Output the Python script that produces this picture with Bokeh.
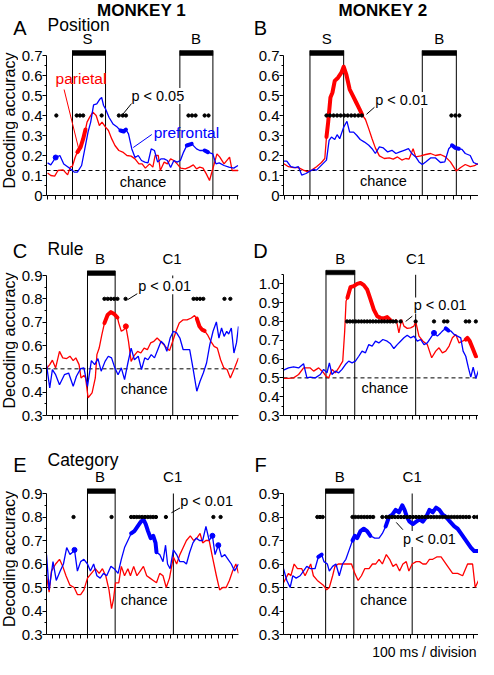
import numpy as np
from bokeh.plotting import figure
from bokeh.layouts import column, row
from bokeh.models import FixedTicker, Label, Span, Range1d
from bokeh.embed import file_html
from bokeh.resources import INLINE

RED = "#ff0000"
BLUE = "#0000ff"
FONT = "Liberation Sans"

# ---------------- DATA (time in ms, decoding accuracy) ----------------
# Panel A : Monkey 1, Position (S = sample, B = bar)
A_T_PFC = [-302, -263, -204, -153, -106, -47, 0, 20, 59, 110, 149, 188, 220, 255, 294, 333, 353, 376, 400, 443, 490, 541, 580, 620, 647, 678, 718, 757, 796, 835, 875, 914, 953, 992, 1031, 1071, 1110, 1149, 1188, 1227, 1267, 1306, 1345, 1384, 1443, 1502, 1541, 1600, 1639, 1698, 1737, 1776, 1835, 1894, 1953, 2004]
A_PFC = [0.163, 0.153, 0.19, 0.2, 0.158, 0.14, 0.125, 0.117, 0.117, 0.15, 0.233, 0.317, 0.367, 0.453, 0.458, 0.483, 0.49, 0.45, 0.433, 0.39, 0.358, 0.342, 0.325, 0.32, 0.33, 0.308, 0.233, 0.19, 0.2, 0.175, 0.167, 0.163, 0.233, 0.225, 0.167, 0.183, 0.183, 0.175, 0.14, 0.175, 0.167, 0.175, 0.217, 0.25, 0.258, 0.233, 0.225, 0.225, 0.217, 0.208, 0.158, 0.163, 0.15, 0.142, 0.137, 0.15]
A_T_PPC = [-302, -263, -216, -176, -114, -59, -27, 0, 31, 59, 98, 129, 157, 176, 208, 247, 286, 325, 357, 400, 435, 475, 514, 561, 608, 659, 710, 757, 804, 843, 882, 933, 973, 1000, 1039, 1063, 1110, 1149, 1188, 1227, 1267, 1310, 1365, 1416, 1463, 1502, 1541, 1580, 1620, 1659, 1710, 1749, 1784, 1835, 1902, 1933, 2004]
A_PPC = [0.112, 0.1, 0.097, 0.125, 0.128, 0.103, 0.142, 0.147, 0.19, 0.217, 0.242, 0.283, 0.33, 0.367, 0.392, 0.417, 0.4, 0.35, 0.367, 0.342, 0.325, 0.283, 0.25, 0.225, 0.217, 0.2, 0.197, 0.183, 0.158, 0.158, 0.137, 0.158, 0.142, 0.2, 0.2, 0.125, 0.167, 0.158, 0.183, 0.175, 0.158, 0.137, 0.133, 0.142, 0.153, 0.133, 0.142, 0.137, 0.108, 0.075, 0.15, 0.208, 0.192, 0.158, 0.192, 0.125, 0.125]
A_SIG_PFC = [(-210, -200), (575, 650), (1380, 1450), (1595, 1645)]
A_SIG_PPC = [(55, 160)]
A_DOTS = [-196, 51, 90, 129, 353, 561, 608, 647, 1404, 1447, 1490, 1600, 1647]

# Panel B : Monkey 2, Position
B_T_PFC = [-314, -275, -227, -176, -137, -98, -47, 0, 39, 78, 137, 196, 227, 255, 294, 322, 353, 400, 439, 471, 518, 557, 596, 647, 698, 737, 776, 824, 871, 922, 973, 1020, 1067, 1118, 1169, 1208, 1255, 1294, 1333, 1373, 1431, 1490, 1549, 1600, 1647, 1686, 1725, 1765, 1804, 1843, 1902, 1941, 1992]
B_PFC = [0.172, 0.172, 0.144, 0.139, 0.144, 0.102, 0.11, 0.122, 0.13, 0.127, 0.152, 0.177, 0.276, 0.292, 0.28, 0.304, 0.284, 0.342, 0.371, 0.317, 0.317, 0.3, 0.28, 0.267, 0.251, 0.234, 0.21, 0.243, 0.238, 0.218, 0.226, 0.21, 0.218, 0.226, 0.234, 0.21, 0.193, 0.168, 0.155, 0.168, 0.188, 0.188, 0.165, 0.168, 0.234, 0.251, 0.238, 0.234, 0.231, 0.21, 0.2, 0.165, 0.155]
B_T_PPC = [-314, -255, -196, -137, -78, -31, 20, 78, 137, 176, 196, 216, 243, 267, 294, 333, 373, 400, 431, 471, 510, 549, 588, 620, 659, 698, 737, 776, 824, 882, 941, 988, 1039, 1090, 1137, 1176, 1224, 1255, 1314, 1373, 1431, 1490, 1549, 1608, 1667, 1737, 1784, 1843, 1902, 1953, 1992]
B_PPC = [0.16, 0.144, 0.139, 0.139, 0.127, 0.119, 0.127, 0.144, 0.165, 0.185, 0.292, 0.366, 0.49, 0.515, 0.573, 0.589, 0.614, 0.644, 0.606, 0.531, 0.498, 0.465, 0.432, 0.403, 0.38, 0.333, 0.284, 0.238, 0.198, 0.185, 0.188, 0.182, 0.193, 0.177, 0.185, 0.182, 0.234, 0.193, 0.198, 0.205, 0.21, 0.2, 0.205, 0.193, 0.168, 0.122, 0.139, 0.155, 0.144, 0.149, 0.16]
B_SIG_PFC = [(1680, 1770)]
B_SIG_PPC = [(190, 625)]
B_DOTS = [196, 238, 280, 322, 364, 406, 448, 490, 532, 574, 616, 1678, 1725, 1772]

# Panel C : Monkey 1, Rule (B = bar onset, C1 = first choice)
C_T_PFC = [-593, -546, -508, -461, -405, -334, -273, -207, -160, -99, -52, 0, 56, 104, 151, 198, 254, 301, 348, 395, 442, 489, 536, 584, 631, 678, 734, 781, 828, 875, 922, 969, 1016, 1064, 1111, 1148, 1195, 1242, 1289, 1336, 1384, 1431, 1478, 1525, 1581, 1628, 1675, 1722, 1769, 1816, 1864, 1901, 1939, 1976, 2014, 2042, 2080, 2118, 2155, 2184]
C_PFC = [0.518, 0.418, 0.497, 0.475, 0.432, 0.475, 0.482, 0.425, 0.468, 0.501, 0.504, 0.425, 0.535, 0.518, 0.544, 0.49, 0.532, 0.554, 0.547, 0.504, 0.475, 0.504, 0.454, 0.525, 0.589, 0.539, 0.554, 0.497, 0.547, 0.539, 0.561, 0.547, 0.582, 0.618, 0.604, 0.575, 0.632, 0.661, 0.654, 0.632, 0.582, 0.582, 0.582, 0.504, 0.404, 0.447, 0.482, 0.525, 0.604, 0.661, 0.701, 0.632, 0.675, 0.639, 0.661, 0.649, 0.675, 0.568, 0.611, 0.682]
C_T_PPC = [-593, -546, -508, -461, -405, -358, -301, -254, -207, -169, -122, -94, -52, -28, 9, 66, 113, 136, 169, 207, 245, 292, 339, 386, 433, 452, 489, 527, 555, 593, 631, 678, 725, 772, 819, 866, 913, 960, 1007, 1054, 1101, 1148, 1186, 1233, 1280, 1327, 1384, 1440, 1501, 1548, 1581, 1619, 1656, 1694, 1736, 1784, 1831, 1878, 1925, 1972, 2019, 2066, 2127, 2184]
C_PPC = [0.501, 0.518, 0.537, 0.504, 0.575, 0.547, 0.544, 0.554, 0.535, 0.547, 0.518, 0.461, 0.472, 0.461, 0.376, 0.397, 0.461, 0.561, 0.589, 0.646, 0.696, 0.732, 0.743, 0.735, 0.72, 0.696, 0.661, 0.668, 0.682, 0.618, 0.532, 0.558, 0.575, 0.568, 0.589, 0.582, 0.611, 0.618, 0.632, 0.618, 0.604, 0.589, 0.578, 0.618, 0.661, 0.696, 0.71, 0.71, 0.718, 0.728, 0.715, 0.682, 0.668, 0.663, 0.646, 0.618, 0.596, 0.589, 0.539, 0.504, 0.497, 0.461, 0.504, 0.547]
C_SIG_PFC = []
C_SIG_PPC = [(240, 440), (550, 560), (1575, 1700)]
C_DOTS = [245, 292, 339, 386, 433, 551, 1534, 1581, 1628, 1675, 1981, 2066]

# Panel D : Monkey 2, Rule
D_T_PFC = [-591, -521, -451, -381, -312, -265, -219, -149, -79, -33, 14, 47, 84, 130, 177, 223, 270, 316, 363, 409, 456, 502, 549, 595, 642, 688, 735, 791, 851, 898, 944, 991, 1037, 1084, 1130, 1177, 1223, 1270, 1316, 1363, 1409, 1456, 1502, 1549, 1595, 1628, 1665, 1702, 1740, 1781, 1828, 1874, 1907, 1944, 1981, 2014, 2047, 2084, 2121]
D_PFC = [0.541, 0.553, 0.559, 0.553, 0.575, 0.5, 0.504, 0.5, 0.518, 0.545, 0.527, 0.58, 0.518, 0.536, 0.527, 0.545, 0.571, 0.589, 0.58, 0.589, 0.615, 0.642, 0.633, 0.677, 0.669, 0.695, 0.686, 0.704, 0.695, 0.681, 0.656, 0.677, 0.695, 0.713, 0.727, 0.713, 0.722, 0.695, 0.704, 0.677, 0.686, 0.713, 0.739, 0.722, 0.739, 0.752, 0.763, 0.752, 0.748, 0.731, 0.722, 0.713, 0.642, 0.615, 0.553, 0.504, 0.557, 0.497, 0.539]
D_T_PPC = [-591, -521, -451, -381, -312, -219, -172, -102, -33, 0, 37, 84, 130, 177, 233, 260, 279, 298, 340, 386, 433, 479, 526, 572, 619, 665, 712, 758, 805, 851, 898, 944, 977, 1014, 1051, 1084, 1130, 1177, 1223, 1247, 1293, 1349, 1409, 1470, 1526, 1572, 1619, 1665, 1712, 1758, 1805, 1851, 1898, 1944, 1967, 2000, 2037, 2084, 2121]
D_PPC = [0.497, 0.497, 0.5, 0.518, 0.553, 0.553, 0.536, 0.553, 0.527, 0.509, 0.5, 0.545, 0.527, 0.553, 0.589, 0.748, 0.908, 0.926, 0.982, 0.988, 1.0, 1.005, 0.993, 0.97, 0.917, 0.863, 0.828, 0.819, 0.816, 0.823, 0.805, 0.798, 0.81, 0.739, 0.81, 0.775, 0.763, 0.766, 0.775, 0.8, 0.722, 0.695, 0.677, 0.607, 0.642, 0.66, 0.633, 0.642, 0.669, 0.713, 0.731, 0.686, 0.695, 0.704, 0.713, 0.695, 0.66, 0.615, 0.61]
D_SIG_PFC = [(1495, 1510), (1660, 1705)]
D_SIG_PPC = [(290, 910), (1940, 2090)]
D_DOTS = [293, 333, 373, 413, 453, 493, 533, 573, 613, 653, 693, 733, 773, 813, 853, 893, 933, 973, 1037, 1247, 1502, 1642, 1688, 1944, 1991, 2084]

# Panel E : Monkey 1, Category
E_T_PFC = [-593, -555, -499, -452, -395, -348, -301, -254, -216, -188, -146, -99, -52, 0, 42, 89, 136, 184, 231, 278, 339, 386, 442, 489, 536, 584, 631, 678, 725, 772, 809, 842, 875, 913, 951, 984, 998, 1045, 1092, 1129, 1158, 1195, 1242, 1289, 1336, 1393, 1431, 1478, 1525, 1572, 1619, 1666, 1713, 1760, 1807, 1845, 1892, 1939, 1986, 2033, 2080, 2127, 2184]
E_PFC = [0.64, 0.49, 0.61, 0.53, 0.57, 0.6, 0.67, 0.64, 0.65, 0.66, 0.57, 0.61, 0.62, 0.6, 0.57, 0.6, 0.55, 0.54, 0.56, 0.55, 0.59, 0.58, 0.56, 0.62, 0.67, 0.7, 0.73, 0.74, 0.76, 0.78, 0.79, 0.77, 0.74, 0.71, 0.72, 0.69, 0.65, 0.64, 0.61, 0.68, 0.6, 0.58, 0.66, 0.64, 0.61, 0.61, 0.6, 0.65, 0.69, 0.71, 0.7, 0.7, 0.76, 0.7, 0.72, 0.64, 0.68, 0.63, 0.64, 0.62, 0.6, 0.57, 0.6]
E_T_PPC = [-593, -555, -522, -461, -405, -358, -311, -254, -193, -146, -99, -52, 0, 56, 113, 169, 216, 264, 311, 348, 376, 405, 452, 489, 536, 584, 621, 668, 715, 762, 809, 856, 904, 951, 998, 1045, 1092, 1139, 1186, 1242, 1289, 1336, 1384, 1431, 1487, 1534, 1581, 1628, 1666, 1713, 1760, 1807, 1864, 1911, 1958, 2005, 2052, 2099, 2146, 2184]
E_PPC = [0.55, 0.48, 0.57, 0.6, 0.62, 0.59, 0.55, 0.51, 0.5, 0.47, 0.47, 0.49, 0.54, 0.56, 0.58, 0.56, 0.58, 0.55, 0.49, 0.41, 0.45, 0.52, 0.52, 0.59, 0.55, 0.58, 0.55, 0.59, 0.55, 0.57, 0.59, 0.55, 0.54, 0.53, 0.52, 0.56, 0.55, 0.5, 0.54, 0.63, 0.6, 0.64, 0.67, 0.7, 0.72, 0.7, 0.71, 0.73, 0.69, 0.7, 0.7, 0.63, 0.55, 0.49, 0.5, 0.5, 0.53, 0.57, 0.6, 0.56]
E_SIG_PFC = [(-195, -180), (625, 1000), (1800, 1810), (1885, 1895)]
E_SIG_PPC = []
E_DOTS = [-202, 348, 631, 671, 711, 751, 791, 831, 871, 911, 951, 991, 1134, 1821, 1925]

# Panel F : Monkey 2, Category
F_T_PFC = [-598, -551, -504, -466, -419, -362, -315, -268, -212, -151, -104, -56, -24, 24, 52, 99, 146, 193, 240, 287, 334, 381, 414, 447, 494, 541, 588, 635, 696, 758, 805, 852, 899, 946, 993, 1040, 1087, 1120, 1153, 1191, 1238, 1285, 1332, 1379, 1426, 1473, 1520, 1567, 1614, 1661, 1708, 1765, 1826, 1873, 1920, 1967, 2014, 2061, 2108, 2155]
F_PFC = [0.58, 0.53, 0.5, 0.55, 0.54, 0.55, 0.57, 0.59, 0.58, 0.58, 0.63, 0.64, 0.61, 0.6, 0.57, 0.59, 0.6, 0.55, 0.6, 0.62, 0.66, 0.7, 0.72, 0.71, 0.74, 0.75, 0.74, 0.72, 0.71, 0.71, 0.73, 0.76, 0.8, 0.81, 0.83, 0.82, 0.85, 0.83, 0.8, 0.78, 0.77, 0.78, 0.79, 0.78, 0.8, 0.83, 0.82, 0.84, 0.83, 0.81, 0.8, 0.78, 0.76, 0.75, 0.73, 0.71, 0.69, 0.67, 0.655, 0.655]
F_T_PPC = [-598, -527, -494, -447, -400, -339, -292, -212, -174, -118, -33, 14, 52, 99, 132, 179, 249, 320, 367, 414, 461, 508, 555, 616, 664, 711, 758, 805, 861, 908, 955, 1002, 1049, 1096, 1144, 1181, 1228, 1285, 1332, 1379, 1426, 1473, 1520, 1576, 1638, 1685, 1732, 1802, 1873, 1944, 2014, 2085, 2122, 2169]
F_PPC = [0.52, 0.56, 0.55, 0.6, 0.58, 0.58, 0.55, 0.6, 0.55, 0.53, 0.51, 0.49, 0.5, 0.55, 0.59, 0.6, 0.6, 0.6, 0.6, 0.56, 0.53, 0.55, 0.58, 0.58, 0.6, 0.6, 0.62, 0.6, 0.64, 0.62, 0.59, 0.6, 0.57, 0.6, 0.61, 0.57, 0.6, 0.61, 0.61, 0.6, 0.6, 0.62, 0.62, 0.63, 0.63, 0.61, 0.59, 0.56, 0.56, 0.55, 0.6, 0.6, 0.5, 0.53]
F_SIG_PFC = [(-110, -50), (375, 640), (845, 2160)]
F_SIG_PPC = []
F_DOTS = ([-118, -80, -42, 381, 423, 465, 507, 549, 591, 633, 675, 805]
          + [861 + 42 * k for k in range(29)] + [2108, 2155])

# events: (label, onset, offset) for bars, (label, time) for single marks
A_BARS = [("S", 0, 400), ("B", 1300, 1700)]
B_BARS = [("S", 0, 400), ("B", 1333, 1737)]
C_BARS = [("B", 0, 400)]
D_BARS = [("B", 0, 400)]
E_BARS = [("B", 0, 400)]
F_BARS = [("B", 0, 400)]
C_MARKS = [("C1", 1233)]
D_MARKS = [("C1", 1247)]
E_MARKS = [("C1", 1242)]
F_MARKS = [("C1", 1228)]

CHANCE = {"A": 0.125, "B": 0.125, "C": 0.5, "D": 0.5, "E": 0.5, "F": 0.5}
DOT_LEVEL = {"A": 0.4, "B": 0.4, "C": 0.8, "D": 0.8, "E": 0.8, "F": 0.8}
P_TEXT = {"A": "p < 0.05", "B": "p < 0.01", "C": "p < 0.01", "D": "p < 0.01", "E": "p < 0.01", "F": "p < 0.01"}
TITLES = {"A": "Position", "C": "Rule", "E": "Category"}
MONKEYS = ["MONKEY 1", "MONKEY 2"]

POS_TICKS = [0, 0.1, 0.2, 0.3, 0.4, 0.5, 0.6, 0.7]
POS_LABELS = ["0", "0.1", "0.2", "0.3", "0.4", "0.5", "0.6", "0.7"]
POS_MINOR = [0.05, 0.15, 0.25, 0.35, 0.45, 0.55, 0.65]
R9_TICKS = [0.3, 0.4, 0.5, 0.6, 0.7, 0.8, 0.9]
R9_LABELS = ["0.3", "0.4", "0.5", "0.6", "0.7", "0.8", "0.9"]
R9_MINOR = [0.35, 0.45, 0.55, 0.65, 0.75, 0.85]
R10_TICKS = [0.3, 0.4, 0.5, 0.6, 0.7, 0.8, 0.9, 1.0]
R10_LABELS = ["0.3", "0.4", "0.5", "0.6", "0.7", "0.8", "0.9", "1.0"]
R10_MINOR = [0.35, 0.45, 0.55, 0.65, 0.75, 0.85, 0.95, 1.05]
X_TICKS = list(range(-1000, 2400, 100))   # 100 ms / division

# ---------------- LAYOUT (pixels) ----------------
PAGE0 = 8
TOTAL_W = 478
YLAB_W = 18
LEFT = dict(w=235, mbl=26, mbr=15)
RIGHT = dict(w=225, mbl=30, mbr=0)
FRAME_L = {"L": PAGE0 + YLAB_W + LEFT["mbl"],
           "R": PAGE0 + YLAB_W + LEFT["w"] + RIGHT["mbl"]}
FRAME_W = {"L": LEFT["w"] - LEFT["mbl"] - LEFT["mbr"],
           "R": RIGHT["w"] - RIGHT["mbl"] - RIGHT["mbr"]}
HEAD_TOP = [8, 213, 433]
ROW_TOP = [54, 274, 492]
ROW_H = [159, 159, 159]
ROW_MBB = [10, 10, 9]
FOOT_H = 16

GEOM = {
    "A": dict(xr=(-315, 2010), yr=(0, 0.745), yb=(0, 0.7), bar=(0.70, 0.725),
              ticks=(POS_TICKS, POS_LABELS, POS_MINOR),
              p=(1033, 0.4975), lead=(725, 0.465, 607, 0.405), chance=(854, 0.07)),
    "B": dict(xr=(-314, 2000), yr=(0, 0.745), yb=(0, 0.7), bar=(0.70, 0.725),
              ticks=(POS_TICKS, POS_LABELS, POS_MINOR),
              p=(1088, 0.478), lead=(765, 0.441, 671, 0.406), chance=(871, 0.074)),
    "C": dict(xr=(-593, 2184), yr=(0.3, 0.9386), yb=(0.3, 0.9), bar=(0.9, 0.92),
              ticks=(R9_TICKS, R9_LABELS, R9_MINOR),
              p=(1116, 0.854), lead=(720, 0.822, 579, 0.796), chance=(819, 0.415)),
    "D": dict(xr=(-591, 2121), yr=(0.3, 1.0921), yb=(0.3, 1.05), bar=(1.048, 1.072),
              ticks=(R10_TICKS, R10_LABELS, R10_MINOR),
              p=(1587, 0.885), lead=(1200, 0.828, 1108, 0.80), chance=(819, 0.444)),
    "E": dict(xr=(-593, 2184), yr=(0.3, 0.9383), yb=(0.3, 0.9), bar=(0.9, 0.92),
              ticks=(R9_TICKS, R9_LABELS, R9_MINOR),
              p=(1722, 0.869), lead=(1341, 0.839, 1214, 0.818), chance=(819, 0.445)),
    "F": dict(xr=(-598, 2169), yr=(0.3, 0.9383), yb=(0.3, 0.9), bar=(0.9, 0.92),
              ticks=(R9_TICKS, R9_LABELS, R9_MINOR),
              p=(1473, 0.706), lead=(1096, 0.746, 1002, 0.777), chance=(824, 0.445)),
}

DATA = {
    "A": (A_T_PFC, A_PFC, A_T_PPC, A_PPC, A_SIG_PFC, A_SIG_PPC, A_DOTS, A_BARS, []),
    "B": (B_T_PFC, B_PFC, B_T_PPC, B_PPC, B_SIG_PFC, B_SIG_PPC, B_DOTS, B_BARS, []),
    "C": (C_T_PFC, C_PFC, C_T_PPC, C_PPC, C_SIG_PFC, C_SIG_PPC, C_DOTS, C_BARS, C_MARKS),
    "D": (D_T_PFC, D_PFC, D_T_PPC, D_PPC, D_SIG_PFC, D_SIG_PPC, D_DOTS, D_BARS, D_MARKS),
    "E": (E_T_PFC, E_PFC, E_T_PPC, E_PPC, E_SIG_PFC, E_SIG_PPC, E_DOTS, E_BARS, E_MARKS),
    "F": (F_T_PFC, F_PFC, F_T_PPC, F_PPC, F_SIG_PFC, F_SIG_PPC, F_DOTS, F_BARS, F_MARKS),
}


def lab(p, x, y, text, size, color="black", align="center", baseline="middle",
        bold=False, angle=0.0, bg=None):
    p.add_layout(Label(x=x, y=y, text=text, text_font=FONT, text_font_size=f"{size}px",
                       text_color=color, text_align=align, text_baseline=baseline,
                       text_font_style="bold" if bold else "normal", angle=angle,
                       background_fill_color=bg))


def strip(w, h):
    """Axis-less figure whose frame covers it entirely (pixel coords, y downward)."""
    s = figure(width=w, height=h, x_range=Range1d(0, w), y_range=Range1d(h, 0),
               x_axis_type=None, y_axis_type=None, min_border=0, title=None,
               output_backend="svg", toolbar_location=None,
               background_fill_color="white", border_fill_color="white")
    s.outline_line_color = None
    return s


def series(p, t, v, sig, color):
    t = np.asarray(t, float)
    v = np.asarray(v, float)
    p.line(t, v, line_color=color, line_width=1.3)
    for a, b in sig:
        m = (t >= a) & (t <= b)
        if m.sum() >= 2:
            p.line(t[m], v[m], line_color=color, line_width=4, line_cap="round", line_join="round")
        elif m.sum() == 1:
            p.scatter(t[m], v[m], size=5, color=color, marker="circle")


def panel(key, col, height, mbb):
    g = GEOM[key]
    t_pfc, pfc, t_ppc, ppc, sig_pfc, sig_ppc, dots, bars, marks = DATA[key]
    p = figure(width=col["w"], height=height,
               x_range=Range1d(*g["xr"]), y_range=Range1d(*g["yr"]),
               min_border_left=col["mbl"], min_border_right=col["mbr"],
               min_border_top=0, min_border_bottom=mbb,
               output_backend="svg", toolbar_location=None, title=None,
               background_fill_color="white", border_fill_color="white")
    p.grid.visible = False
    p.outline_line_color = None

    xa = p.xaxis[0]
    xa.ticker = FixedTicker(ticks=[], minor_ticks=X_TICKS)
    xa.minor_tick_out = 4
    xa.minor_tick_in = 0
    xa.major_tick_out = 0
    xa.axis_line_color = "black"

    yt, yl, ym = g["ticks"]
    ya = p.yaxis[0]
    ya.ticker = FixedTicker(ticks=yt, minor_ticks=ym)
    ya.major_label_overrides = {tk: lb for tk, lb in zip(yt, yl)}
    ya.bounds = g["yb"]
    ya.major_tick_out = 4
    ya.major_tick_in = 0
    ya.minor_tick_out = 2
    ya.minor_tick_in = 0
    ya.major_label_standoff = 0
    ya.major_label_text_font = FONT
    ya.major_label_text_font_size = "15px"
    ya.major_label_text_color = "black"

    y0 = g["yb"][0]
    blo, bhi = g["bar"]
    p.add_layout(Span(location=CHANCE[key], dimension="width", line_color="black",
                      line_width=1, line_dash="4 3", level="underlay"))
    for name, on, off in bars:
        p.segment(x0=[on, off], y0=[y0, y0], x1=[on, off], y1=[bhi, bhi],
                  line_color="black", line_width=1)
        p.quad(left=[on], right=[off], bottom=[blo], top=[bhi], fill_color="black",
               line_color="black", line_width=0.5)
    for name, tm in marks:
        p.segment(x0=[tm], y0=[y0], x1=[tm], y1=[blo], line_color="black", line_width=1)

    series(p, t_ppc, ppc, sig_ppc, RED)
    series(p, t_pfc, pfc, sig_pfc, BLUE)
    p.scatter(dots, [DOT_LEVEL[key]] * len(dots), size=3.3, color="black", marker="circle")

    lx0, ly0, lx1, ly1 = g["lead"]
    p.segment(x0=[lx0], y0=[ly0], x1=[lx1], y1=[ly1], line_color="black", line_width=1)
    lab(p, g["p"][0], g["p"][1], P_TEXT[key], 14.5, bg="white")
    lab(p, g["chance"][0], g["chance"][1], "chance", 14.5)
    return p


def event_page_x(key, side, t):
    x0, x1 = GEOM[key]["xr"]
    return FRAME_L[side] + (t - x0) / (x1 - x0) * FRAME_W[side]


KEYS = [("A", "B"), ("C", "D"), ("E", "F")]
panels = []
for r, (kl, kr) in enumerate(KEYS):
    panels.append((panel(kl, LEFT, ROW_H[r], ROW_MBB[r]), panel(kr, RIGHT, ROW_H[r], ROW_MBB[r])))

pA = panels[0][0]
lab(pA, 103, 0.585, "parietal", 15.5, color=RED)
pA.segment(x0=[-102], y0=[0.53], x1=[86], y1=[0.215], line_color=RED, line_width=1)
lab(pA, 1379, 0.315, "prefrontal", 15.5, color=BLUE)
pA.segment(x0=[960], y0=[0.305], x1=[736], y1=[0.24], line_color=BLUE, line_width=1)

# ---- header strips: monkey names, panel letters, titles, event names ----
LETTER_Y = [35, 258, 472]
TITLE_Y = [32.5, 256, 467.5]
EVENT_Y = [45.5, 265.5, 483.5]
heads = []
for r, (kl, kr) in enumerate(KEYS):
    top = HEAD_TOP[r]
    h = (ROW_TOP[r] - top)
    s = strip(TOTAL_W, h)
    if r == 0:
        lab(s, (FRAME_L["L"] + FRAME_W["L"] / 2) - PAGE0, 18 - top, MONKEYS[0], 17, bold=True)
        lab(s, (FRAME_L["R"] + FRAME_W["R"] / 2 + 2) - PAGE0, 18 - top, MONKEYS[1], 17, bold=True)
    lab(s, 27.5 - PAGE0, LETTER_Y[r] - top, kl, 20)
    lab(s, 268 - PAGE0, LETTER_Y[r] - top, kr, 20)
    lab(s, 55 - PAGE0, TITLE_Y[r] - top, TITLES[kl], 17.5, align="left")
    for key, side in ((kl, "L"), (kr, "R")):
        bars, marks = DATA[key][7], DATA[key][8]
        for name, on, off in bars:
            lab(s, event_page_x(key, side, (on + off) / 2) - PAGE0, EVENT_Y[r] - top, name, 15)
        for name, tm in marks:
            lab(s, event_page_x(key, side, tm) - PAGE0, EVENT_Y[r] - top, name, 15)
    heads.append(s)

# ---- y-axis titles ----
ylabs = []
for r in range(3):
    s = strip(YLAB_W, ROW_H[r])
    lab(s, YLAB_W / 2, 79, "Decoding accuracy", 16, angle=np.pi / 2)
    ylabs.append(s)

foot = strip(TOTAL_W, FOOT_H)
lab(foot, 484 - PAGE0, 8, "100 ms / division", 14, align="right")

layout = column(
    heads[0], row(ylabs[0], *panels[0]),
    heads[1], row(ylabs[1], *panels[1]),
    heads[2], row(ylabs[2], *panels[2]),
    foot,
)
open("out.html", "w").write(file_html(layout, INLINE, title="Decoding accuracy"))
